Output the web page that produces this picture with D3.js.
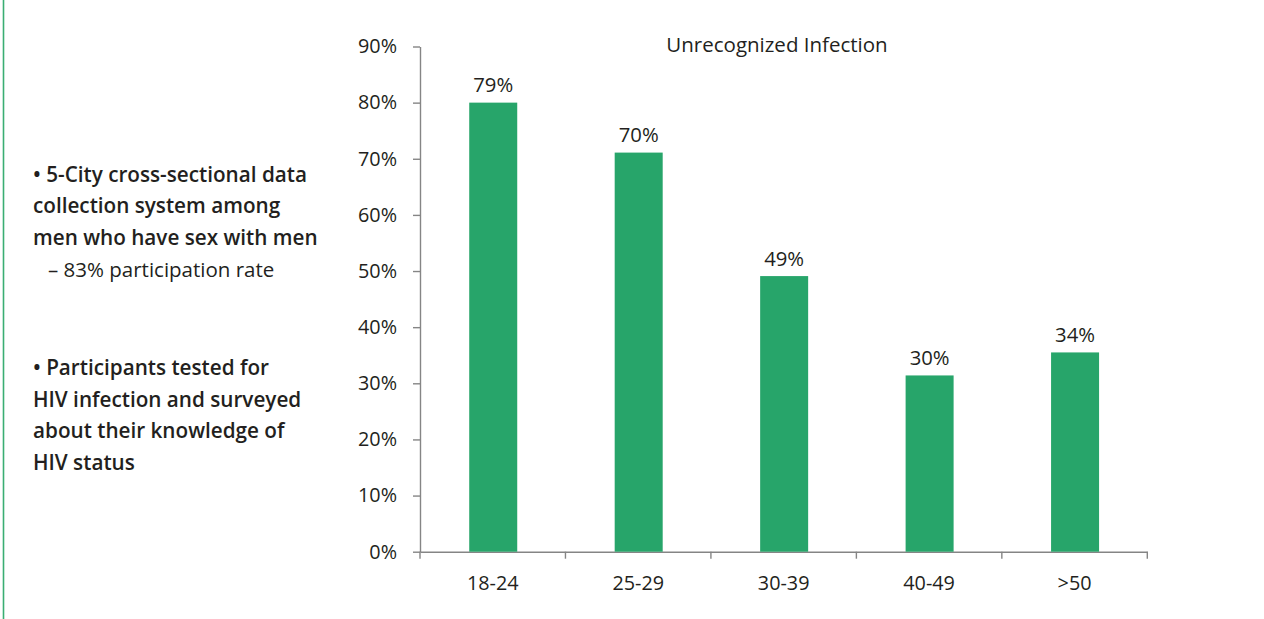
<!DOCTYPE html>
<html>
<head>
<meta charset="utf-8">
<script src="https://cdn.jsdelivr.net/npm/d3@7"></script>
<style>
  html, body { margin: 0; padding: 0; background: #fff; }
  svg { display: block; font-family: "Open Sans", Lato, sans-serif; }
</style>
</head>
<body>
<svg id="chart" width="1264" height="619"></svg>
<script>
// ---- data ----
const categories = ["18-24", "25-29", "30-39", "40-49", ">50"];
const barValues = [0.80, 0.711, 0.491, 0.314, 0.355];   // bar heights as drawn
const barLabels = ["79%", "70%", "49%", "30%", "34%"];   // printed labels
const yTicks = [0, 0.1, 0.2, 0.3, 0.4, 0.5, 0.6, 0.7, 0.8, 0.9];
const chartTitle = "Unrecognized Infection";
const block1Bold = ["• 5-City cross-sectional data", "collection system among", "men who have sex with men"];
const block1Sub = ["– 83% participation rate"];
const block2Bold = ["• Participants tested for", "HIV infection and surveyed", "about their knowledge of", "HIV status"];

// ---- layout ----
const svg = d3.select("#chart");
const textColor = "#231f20";
const axisColor = "#858585";
const barColor = "#27a56a";
const fs = 19.8;

const x = d3.scaleBand().domain(categories).range([420, 1147.3]).padding(0);
const y = d3.scaleLinear().domain([0, 0.9]).range([551.7, 46.5]);

// left border line
svg.append("line").attr("x1", 3.5).attr("x2", 3.5).attr("y1", 0).attr("y2", 619)
  .attr("stroke", "#3aae73").attr("stroke-width", 1.6);

// y axis
const yAxis = svg.append("g").attr("transform", "translate(420,0)")
  .call(d3.axisLeft(y).tickValues(yTicks).tickFormat(d3.format(".0%")).tickSize(7).tickPadding(16).tickSizeOuter(0));
yAxis.select(".domain").attr("stroke", axisColor).attr("stroke-width", 1.4);
yAxis.selectAll(".tick line").attr("stroke", axisColor).attr("stroke-width", 1.4);
yAxis.selectAll(".tick text").attr("fill", textColor).attr("font-size", fs)
  .attr("font-family", "'Open Sans', sans-serif");

// x axis
const xAxis = svg.append("g").attr("transform", `translate(0,${y(0)})`)
  .call(d3.axisBottom(x).tickSize(0).tickPadding(24).tickSizeOuter(0));
xAxis.select(".domain").attr("stroke", axisColor).attr("stroke-width", 1.4);
xAxis.selectAll(".tick text").attr("fill", textColor).attr("font-size", fs)
  .attr("font-family", "'Open Sans', sans-serif");
// boundary ticks
const bounds = categories.map(c => x(c)).concat([x.range()[1]]);
xAxis.selectAll(".bound").data(bounds).enter().append("line")
  .attr("class", "bound")
  .attr("x1", d => d).attr("x2", d => d).attr("y1", 0).attr("y2", 7)
  .attr("stroke", axisColor).attr("stroke-width", 1.4);

// bars
const bw = x.bandwidth() * 0.33;
svg.append("g").selectAll("rect").data(categories).enter().append("rect")
  .attr("x", (d) => x(d) + x.bandwidth() / 2 - bw / 2 + 0.5)
  .attr("width", bw)
  .attr("y", (d, i) => y(barValues[i]))
  .attr("height", (d, i) => y(0) - y(barValues[i]))
  .attr("fill", barColor);

// bar labels
svg.append("g").selectAll("text").data(categories).enter().append("text")
  .attr("x", d => x(d) + x.bandwidth() / 2 + 0.5)
  .attr("y", (d, i) => y(barValues[i]) - 10.5)
  .attr("text-anchor", "middle")
  .attr("font-size", 20.3)
  .attr("fill", textColor)
  .text((d, i) => barLabels[i]);

// chart title
svg.append("text").attr("x", 777).attr("y", 52).attr("text-anchor", "middle")
  .attr("font-size", 20.5).attr("fill", textColor).text(chartTitle);

// left text blocks
const lh = 31.7;
const g1 = svg.append("g");
block1Bold.forEach((t, i) => {
  g1.append("text").attr("x", 33).attr("y", 181.5 + i * lh)
    .attr("font-size", 20.7).attr("font-weight", 600).attr("fill", textColor).text(t);
});
block1Sub.forEach((t, i) => {
  g1.append("text").attr("x", 48).attr("y", 181.5 + (block1Bold.length + i) * lh)
    .attr("font-size", 20.5).attr("fill", textColor).text(t);
});
block2Bold.forEach((t, i) => {
  g1.append("text").attr("x", 33).attr("y", 375 + i * lh)
    .attr("font-size", 20.7).attr("font-weight", 600).attr("fill", textColor).text(t);
});
</script>
</body>
</html>
